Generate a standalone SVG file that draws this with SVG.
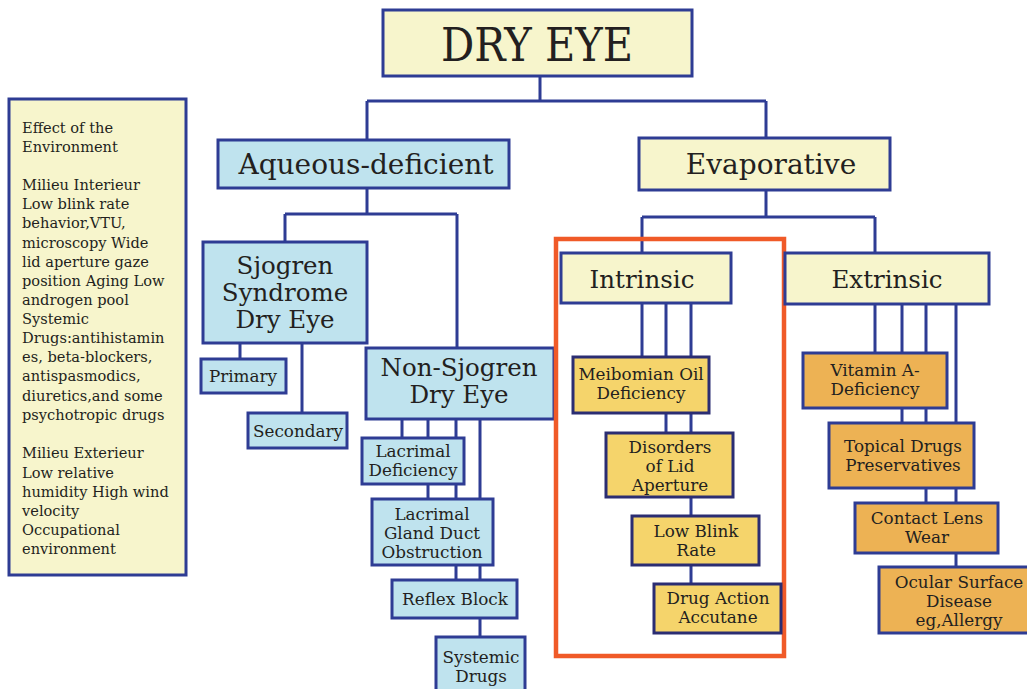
<svg xmlns="http://www.w3.org/2000/svg" width="1027" height="689" viewBox="0 0 1027 689">
<style>
.b{stroke:#2e3c94;stroke-width:3}
.y{fill:#f7f5cc}
.c{fill:#bfe3ee}
.g{fill:#f5d46b;stroke:#2b2d72}
.o{fill:#edb254}
text{font-family:"DejaVu Serif","Liberation Serif",serif;fill:#231f20;text-anchor:middle}
.s{font-size:16.8px}
.m{font-size:24.5px}
.l{font-size:28px}
.env{font-size:14.6px;text-anchor:start}
#conn path{fill:none;stroke:#2e3c94;stroke-width:3}
</style>
<rect width="1027" height="689" fill="#fff"/>
<g id="conn">
<path d="M540 76V101M367 101H766M367 101V140M766 101V138"/>
<path d="M367 188V214M285 214H457M285 214V242M457 214V348"/>
<path d="M240 343V359M302 343V413"/>
<path d="M402 419V438M428 419V499M456 419V580M480 419V637"/>
<path d="M766 190V217M642 217H875M642 217V253M875 217V253"/>
<path d="M642 303V357M666 303V433M691 303V584"/>
<path d="M875 304V353M902 304V423M926 304V503M956 304V567"/>
</g>
<g id="env">
<rect x="9" y="99" width="177" height="476" class="y b"/>
<text class="env" x="22" y="133">Effect of the</text>
<text class="env" x="22" y="152">Environment</text>
<text class="env" x="22" y="190">Milieu Interieur</text>
<text class="env" x="22" y="209">Low blink rate</text>
<text class="env" x="22" y="228">behavior,VTU,</text>
<text class="env" x="22" y="248">microscopy Wide</text>
<text class="env" x="22" y="267">lid aperture gaze</text>
<text class="env" x="22" y="286">position Aging Low</text>
<text class="env" x="22" y="305">androgen pool</text>
<text class="env" x="22" y="324">Systemic</text>
<text class="env" x="22" y="343">Drugs:antihistamin</text>
<text class="env" x="22" y="362">es, beta-blockers,</text>
<text class="env" x="22" y="381">antispasmodics,</text>
<text class="env" x="22" y="401">diuretics,and some</text>
<text class="env" x="22" y="420">psychotropic drugs</text>
<text class="env" x="22" y="458">Milieu Exterieur</text>
<text class="env" x="22" y="478">Low relative</text>
<text class="env" x="22" y="497">humidity High wind</text>
<text class="env" x="22" y="516">velocity</text>
<text class="env" x="22" y="535">Occupational</text>
<text class="env" x="22" y="554">environment</text>
</g>
<g id="dryeye">
<rect x="383" y="10" width="309" height="66" class="y b"/>
<text x="537" y="61" font-size="46" textLength="192" lengthAdjust="spacingAndGlyphs">DRY EYE</text>
</g>
<g id="aqueous">
<rect x="218" y="140" width="291" height="48" class="c b"/>
<text class="l" x="366" y="174">Aqueous-deficient</text>
</g>
<g id="evaporative">
<rect x="639" y="138" width="251" height="52" class="y b"/>
<text class="l" x="771" y="174">Evaporative</text>
</g>
<g id="sjogren">
<rect x="203" y="242" width="164" height="101" class="c b"/>
<text class="m" x="285" y="274">Sjogren</text>
<text class="m" x="285" y="301">Syndrome</text>
<text class="m" x="285" y="328">Dry Eye</text>
</g>
<g id="primary">
<rect x="201" y="359" width="85" height="34" class="c b"/>
<text class="s" x="243" y="382">Primary</text>
</g>
<g id="secondary">
<rect x="248" y="413" width="99" height="35" class="c b"/>
<text class="s" x="298" y="437">Secondary</text>
</g>
<g id="nonsjogren">
<rect x="366" y="348" width="188" height="71" class="c b"/>
<text class="m" x="459" y="376">Non-Sjogren</text>
<text class="m" x="459" y="403">Dry Eye</text>
</g>
<g id="lacdef">
<rect x="362" y="438" width="102" height="46" class="c b"/>
<text class="s" x="413" y="457">Lacrimal</text>
<text class="s" x="413" y="476">Deficiency</text>
</g>
<g id="lacgland">
<rect x="372" y="499" width="121" height="66" class="c b"/>
<text class="s" x="432" y="520">Lacrimal</text>
<text class="s" x="432" y="539">Gland Duct</text>
<text class="s" x="432" y="558">Obstruction</text>
</g>
<g id="reflex">
<rect x="392" y="580" width="125" height="38" class="c b"/>
<text class="s" x="455" y="605">Reflex Block</text>
</g>
<g id="systemic">
<rect x="436" y="637" width="89" height="60" class="c b"/>
<text class="s" x="481" y="663">Systemic</text>
<text class="s" x="481" y="682">Drugs</text>
</g>
<g id="highlight">
<rect x="556" y="239" width="228" height="417" fill="none" stroke="#f05a28" stroke-width="4.5"/>
</g>
<g id="intrinsic">
<rect x="561" y="253" width="170" height="50" class="y b"/>
<text class="m" x="642" y="288">Intrinsic</text>
</g>
<g id="extrinsic">
<rect x="785" y="253" width="204" height="51" class="y b"/>
<text class="m" x="887" y="288">Extrinsic</text>
</g>
<g id="meibomian">
<rect x="573" y="357" width="136" height="56" class="g b"/>
<text class="s" x="641" y="380">Meibomian Oil</text>
<text class="s" x="641" y="399">Deficiency</text>
</g>
<g id="lid">
<rect x="606" y="433" width="127" height="64" class="g b"/>
<text class="s" x="670" y="453">Disorders</text>
<text class="s" x="670" y="472">of Lid</text>
<text class="s" x="670" y="491">Aperture</text>
</g>
<g id="blink">
<rect x="632" y="516" width="127" height="49" class="g b"/>
<text class="s" x="696" y="537">Low Blink</text>
<text class="s" x="696" y="556">Rate</text>
</g>
<g id="drug">
<rect x="654" y="584" width="127" height="49" class="g b"/>
<text class="s" x="718" y="604">Drug Action</text>
<text class="s" x="718" y="623">Accutane</text>
</g>
<g id="vitamin">
<rect x="803" y="353" width="144" height="55" class="o b"/>
<text class="s" x="875" y="376">Vitamin A-</text>
<text class="s" x="875" y="395">Deficiency</text>
</g>
<g id="topical">
<rect x="829" y="423" width="145" height="65" class="o b"/>
<text class="s" x="903" y="452">Topical Drugs</text>
<text class="s" x="903" y="471">Preservatives</text>
</g>
<g id="contact">
<rect x="855" y="503" width="143" height="50" class="o b"/>
<text class="s" x="927" y="524">Contact Lens</text>
<text class="s" x="927" y="543">Wear</text>
</g>
<g id="ocular">
<rect x="879" y="567" width="152" height="66" class="o b"/>
<text class="s" x="959" y="588">Ocular Surface</text>
<text class="s" x="959" y="607">Disease</text>
<text class="s" x="959" y="626">eg,Allergy</text>
</g>
</svg>
